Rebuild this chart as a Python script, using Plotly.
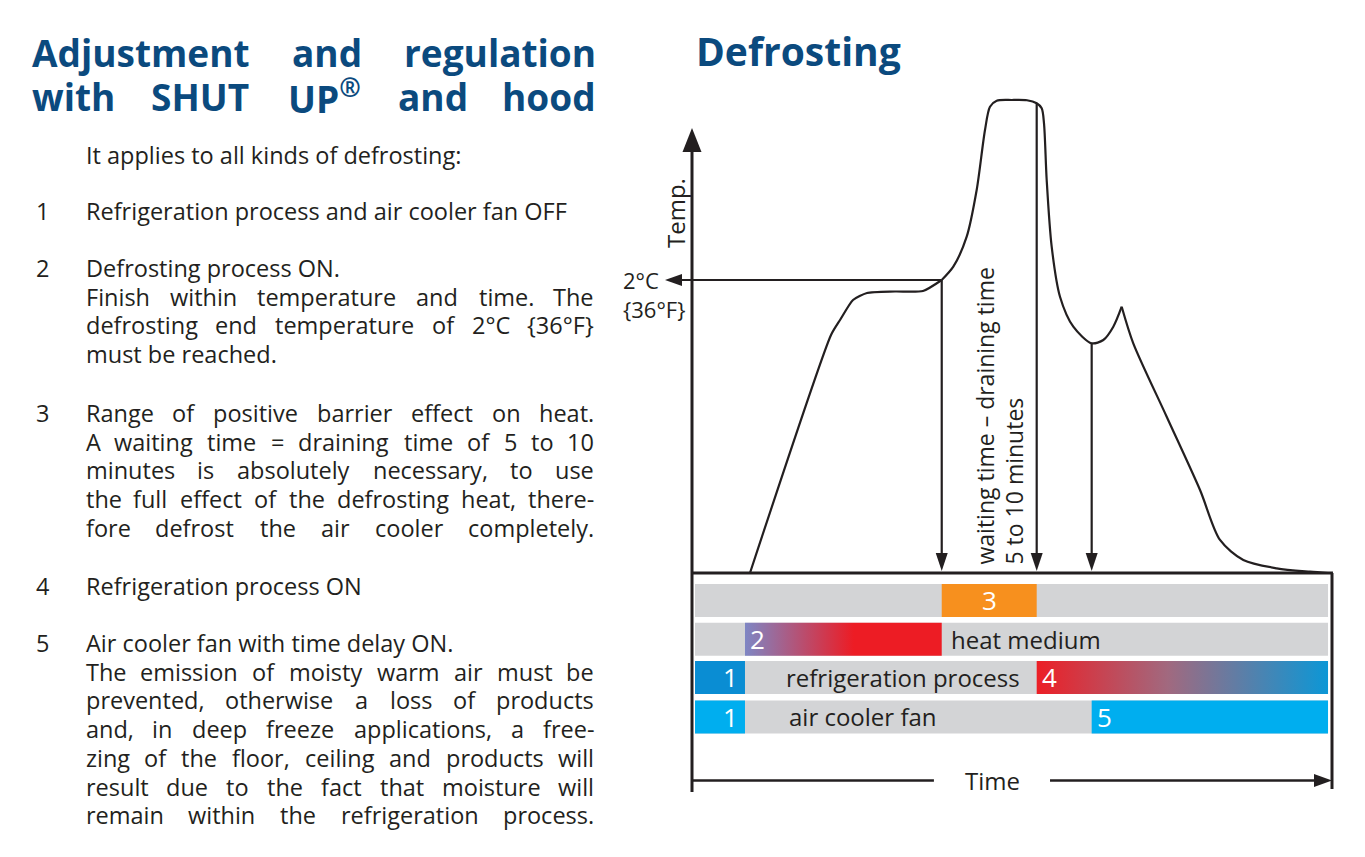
import plotly.graph_objects as go

# The page body has an 8px margin, so the figure is drawn 8px in from the window corner.
OFF = 8
W, H = 1365 - 2 * OFF, 857 - 2 * OFF
INK = "#231F20"
TITLE_BLUE = "#0B4A7E"
FONT = "Open Sans"

# ---------------- data ----------------
# temperature curve (time units 0..100 across the box, temp units: 0 = base line, 100 = peak)
rise_time = [9.06, 21.72, 23.13, 25.16, 27.34, 31.72, 36.09, 39.02]
rise_temp = [0.0, 50.32, 53.49, 57.72, 59.20, 59.51, 59.62, 61.95]
peak_time = [39.02, 40.83, 42.92, 44.48, 45.78, 46.56, 47.61, 50.0, 52.34, 53.86,
             54.64, 55.0, 55.42, 56.20, 57.5, 59.58, 62.45, 64.27, 65.83, 67.14]
peak_temp = [61.95, 64.76, 71.10, 80.97, 93.66, 98.58, 99.85, 100.0, 99.94, 99.30,
             98.24, 95.07, 83.09, 68.98, 58.41, 52.07, 48.56, 49.26, 52.07, 56.30]
fall_time = [67.14, 68.95, 74.17, 79.38, 82.5, 86.14, 91.36, 96.56, 99.38]
fall_temp = [56.30, 48.56, 33.04, 17.55, 6.98, 2.75, 0.99, 0.27, 0.0]

temp_2c = 61.95                       # defrosting end temperature level
marker_times = [39.02, 53.86, 62.45]  # end of defrost, end of waiting time, fan on
marker_temps = [61.95, 99.30, 48.56]

# phase bars
t_start, t_defrost, t_red, t_end = 0.47, 8.28, 25.3, 99.38
seg_row = [0, 1, 2, 2, 3, 3]
seg_t0 = [39.02, t_defrost, t_start, 53.86, t_start, 62.45]
seg_t1 = [53.86, 39.02, t_defrost, t_end, t_defrost, t_end]
seg_label = ["3", "2", "1", "4", "1", "5"]
seg_color = ["#F7901E", "grad_heat", "#0A8DD3", "grad_cool", "#00AEEF", "#00AEEF"]
row_text = ["", "heat medium", "refrigeration process", "air cooler fan"]
row_text_t = [None, 40.31, 14.53, 15.0]

# text column
title_lines = [["Adjustment", "and", "regulation"],
               ["with", "SHUT", "UP<sup>®</sup>", "and", "hood"]]
intro = "It applies to all kinds of defrosting:"
list_numbers = ["1", "2", "3", "4", "5"]
list_lines = [
    ["Refrigeration process and air cooler fan OFF"],
    ["Defrosting process ON.", "Finish within temperature and time. The",
     "defrosting end temperature of 2°C {36°F}", "must be reached."],
    ["Range of positive barrier effect on heat.", "A waiting time = draining time of 5 to 10",
     "minutes is absolutely necessary, to use", "the full effect of the defrosting heat, there-",
     "fore defrost the air cooler completely."],
    ["Refrigeration process ON"],
    ["Air cooler fan with time delay ON.", "The emission of moisty warm air must be",
     "prevented, otherwise a loss of products", "and, in deep freeze applications, a free-",
     "zing of the floor, ceiling and products will", "result due to the fact that moisture will",
     "remain within the refrigeration process."],
]
list_justify = [[False], [False, True, True, False], [True, True, True, True, True], [False],
                [False, True, True, True, True, True, True]]

# ---------------- geometry / scales (reference window pixels) ----------------
X0_PX, PX_T = 692 - OFF, 6.4     # figure px of time 0, px per time unit
Y0_PX, PX_K = 573 - OFF, 4.73    # figure px of temp 0, px per temp unit
row_center = [-5.81, -14.0, -22.09, -30.44]
row_h = 6.98

REG = dict(zip("abcdefghijklmnopqrstuvwxyz",
               [.556, .613, .476, .613, .561, .339, .548, .614, .253, .253, .525, .253, .930,
                .614, .604, .613, .613, .408, .477, .353, .614, .501, .778, .524, .502, .471]))
REG.update({"A": .633, "B": .648, "C": .631, "D": .722, "E": .556, "F": .516, "G": .728,
            "H": .738, "I": .279, "N": .754, "O": .779, "R": .618, "S": .549, "T": .555,
            " ": .26, ".": .266, ",": .245, ":": .266, "-": .322, "=": .572, "°": .418,
            "{": .386, "}": .386, "–": .5, "®": .832})
for d in "0123456789":
    REG[d] = .572
BOLD = dict(zip("abcdefghijklmnopqrstuvwxyz",
                [.599, .630, .507, .630, .590, .379, .556, .648, .297, .297, .600, .297, .974,
                 .648, .619, .630, .630, .450, .518, .408, .648, .569, .856, .588, .569, .505]))
BOLD.update({"A": .717, "D": .762, "H": .797, "P": .644, "S": .566, "T": .604, "U": .777,
             "®": .832, " ": .26})


def text_w(s, size, bold=False):
    tbl = BOLD if bold else REG
    if "<sup>" in s:
        a, rest = s.split("<sup>")
        b = rest.split("</sup>")[0]
        return text_w(a, size, bold) + 0.7 * text_w(b, size, bold)
    return sum(tbl.get(ch, 0.56) for ch in s) * size


fig = go.Figure()
ann = []


def P(xr, yr):
    """reference window px -> paper coords"""
    return (xr - OFF) / W, 1 - (yr - OFF) / H


def txt(xr, yr, s, size, color=INK, xa="left", bold=False):
    x, y = P(xr, yr)
    ann.append(dict(x=x, y=y, xref="paper", yref="paper", text=s, showarrow=False,
                    xanchor=xa, yanchor="middle", borderpad=0,
                    font=dict(family=FONT, size=size, color=color, weight=700 if bold else 400)))


def text_line(words, yr, x0, x1, size, justify, color=INK, bold=False):
    if not justify or len(words) == 1:
        txt(x0, yr, " ".join(words), size, color, "left", bold)
        return
    ws = [text_w(w, size, bold) for w in words]
    gap = (x1 - x0 - sum(ws)) / (len(words) - 1)
    cur = x0
    for i, (w, wd) in enumerate(zip(words, ws)):
        if i == 0:
            txt(x0, yr, w, size, color, "left", bold)
        elif i == len(words) - 1:
            txt(x1, yr, w, size, color, "right", bold)
        else:
            txt(cur + wd / 2, yr, w, size, color, "center", bold)
        cur += wd + gap


# ---- left column text ----
title_y = [52, 97]
for words, yr in zip(title_lines, title_y):
    text_line(words, yr, 31, 597, 37, True, TITLE_BLUE, True)
txt(695, 50, "Defrosting", 39, TITLE_BLUE, "left", True)

BODY = 23.5
txt(85, 155, intro, BODY)
first_y = [211, 268, 413, 586, 643]
PITCH = 28.7
for num, lines, just, y0 in zip(list_numbers, list_lines, list_justify, first_y):
    txt(35, y0, num, BODY)
    for k, (ln, j) in enumerate(zip(lines, just)):
        text_line(ln.split(" "), y0 + k * PITCH, 85, 595, BODY, j)


# ---- diagram helpers (data units) ----
def dline(xs, ys, w=2.2, shape="linear", smooth=1.0):
    fig.add_trace(go.Scatter(x=xs, y=ys, mode="lines",
                             line=dict(color=INK, width=w, shape=shape, smoothing=smooth),
                             hoverinfo="skip", showlegend=False))


def dpoly(xs, ys, color=INK, grad=None):
    kw = dict(fillcolor=color)
    if grad is not None:
        kw = dict(fillgradient=dict(type="horizontal", colorscale=grad,
                                    start=min(xs), stop=max(xs)))
    fig.add_trace(go.Scatter(x=xs, y=ys, mode="lines", fill="toself",
                             line=dict(width=0, color="rgba(0,0,0,0)"),
                             hoverinfo="skip", showlegend=False, **kw))


def arrowhead(tx, ty, direction, length_px, width_px):
    lt, wt = length_px / PX_T, width_px / PX_T
    lk, wk = length_px / PX_K, width_px / PX_K
    if direction == "down":
        xs, ys = [tx, tx - wt / 2, tx + wt / 2], [ty, ty + lk, ty + lk]
    elif direction == "up":
        xs, ys = [tx, tx - wt / 2, tx + wt / 2], [ty, ty - lk, ty - lk]
    elif direction == "left":
        xs, ys = [tx, tx + lt, tx + lt], [ty, ty + wk / 2, ty - wk / 2]
    else:
        xs, ys = [tx, tx - lt, tx - lt], [ty, ty + wk / 2, ty - wk / 2]
    dpoly(xs + [xs[0]], ys + [ys[0]])


# bars
for r in range(4):
    yc = row_center[r]
    dpoly([t_start, t_end, t_end, t_start, t_start],
          [yc - row_h / 2, yc - row_h / 2, yc + row_h / 2, yc + row_h / 2, yc - row_h / 2],
          "#D3D4D6")
grad_heat = [[0, "#7E86C4"], [(t_red - t_defrost) / (39.02 - t_defrost), "#ED1C24"], [1, "#ED1C24"]]
grad_cool = [[0, "#EC1F26"], [0.45, "#A1697F"], [1, "#0C97D6"]]
for r, a, b, lab, col in zip(seg_row, seg_t0, seg_t1, seg_label, seg_color):
    yc = row_center[r]
    xs = [a, b, b, a, a]
    ys = [yc - row_h / 2, yc - row_h / 2, yc + row_h / 2, yc + row_h / 2, yc - row_h / 2]
    if col == "grad_heat":
        dpoly(xs, ys, grad=grad_heat)
    elif col == "grad_cool":
        dpoly(xs, ys, grad=grad_cool)
    else:
        dpoly(xs, ys, col)
    if lab == "3":
        xpos, xa = (a + b) / 2, "center"
    elif lab == "1":
        xpos, xa = b - 0.9, "right"
    else:
        xpos, xa = a + 0.6, "left"
    ann.append(dict(x=xpos, y=yc, xref="x", yref="y", text=lab, showarrow=False,
                    xanchor=xa, yanchor="middle", borderpad=0,
                    font=dict(family=FONT, size=26, color="white")))
for r, s, tx in zip(range(4), row_text, row_text_t):
    if s:
        ann.append(dict(x=tx, y=row_center[r], xref="x", yref="y", text=s, showarrow=False,
                        xanchor="left", yanchor="middle", borderpad=0,
                        font=dict(family=FONT, size=24, color=INK)))

# temperature curve
dline(rise_time, rise_temp, 2.2, "spline", 0.6)
dline(peak_time, peak_temp, 2.2, "spline", 0.8)
dline(fall_time, fall_temp, 2.2, "spline", 0.8)

# frame / axes
box_bottom = -(792 - 573) / PX_K
time_y = -(780.5 - 573) / PX_K
y_tip = (573 - 128) / PX_K
dline([0, 0], [box_bottom, y_tip - 20 / PX_K], 3)
arrowhead(0, y_tip, "up", 24, 19)
dline([0, 100.15], [0, 0], 3)
dline([100, 100], [0, -(789 - 573) / PX_K], 3)
dline([0, 37.8], [time_y, time_y], 2.6)
dline([55.94, 97.5], [time_y, time_y], 2.6)
arrowhead(100, time_y, "right", 18, 13)

# 2 °C level line
dline([marker_times[0], -1.9], [temp_2c, temp_2c], 2.2)
arrowhead(-4.22, temp_2c, "left", 17, 12)
# down arrows
for tx, ty in zip(marker_times, marker_temps):
    dline([tx, tx], [ty, 3.0], 2.2)
    arrowhead(tx, 0.4, "down", 18, 12)


# diagram labels
def dtxt(x, y, s, size=24, xa="left", ya="middle", angle=0):
    ann.append(dict(x=x, y=y, xref="x", yref="y", text=s, showarrow=False,
                    xanchor=xa, yanchor=ya, textangle=angle, align="left", borderpad=0,
                    font=dict(family=FONT, size=size, color=INK)))


dtxt(-10.9, (573 - 294) / PX_K, "2°C<br>{36°F}", 22)
dtxt(-2.66, (573 - 213) / PX_K, "Temp.", 24, "center", "middle", -90)
dtxt(47.97, (573 - 566) / PX_K, "waiting time – draining time<br>5 to 10 minutes", 23,
     "center", "bottom", -90)
dtxt(46.9, time_y, "Time", 24, "center", "middle")

fig.update_layout(
    width=W, height=H, autosize=False,
    margin=dict(l=0, r=0, t=0, b=0, pad=0),
    template="none",
    paper_bgcolor="white",
    plot_bgcolor="rgba(0,0,0,0)",
    showlegend=False,
    xaxis=dict(range=[-X0_PX / PX_T, (W - X0_PX) / PX_T], domain=[0, 1], visible=False,
               fixedrange=True),
    yaxis=dict(range=[-(H - Y0_PX) / PX_K, Y0_PX / PX_K], domain=[0, 1], visible=False,
               fixedrange=True),
    annotations=ann,
)
fig.write_html("out.html")
